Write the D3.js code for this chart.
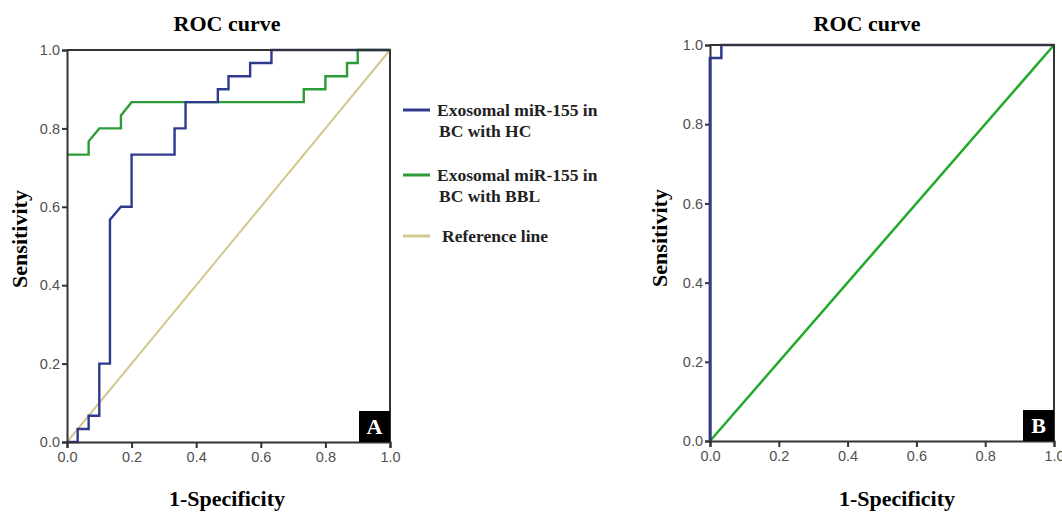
<!DOCTYPE html>
<html>
<head>
<meta charset="utf-8">
<script src="https://cdn.jsdelivr.net/npm/d3@7"></script>
<style>
  body { margin: 0; background: #fff; }
  svg { display: block; }
</style>
</head>
<body>
<div id="chart"></div>
<script>
// tick values shared by both panels
var ticks = [0.0, 0.2, 0.4, 0.6, 0.8, 1.0];

// panel A - exosomal miR-155, BC vs HC
var hcFpr = [0, 0.033, 0.033, 0.067, 0.067, 0.1, 0.1, 0.133, 0.133, 0.167, 0.2, 0.2, 0.333, 0.333, 0.367, 0.367, 0.467, 0.467, 0.5, 0.5, 0.567, 0.567, 0.633, 0.633, 1];
var hcTpr = [0, 0, 0.033, 0.033, 0.067, 0.067, 0.2, 0.2, 0.567, 0.6, 0.6, 0.733, 0.733, 0.8, 0.8, 0.867, 0.867, 0.9, 0.9, 0.933, 0.933, 0.967, 0.967, 1, 1];

// panel A - exosomal miR-155, BC vs BBL
var bblFpr = [0, 0.067, 0.067, 0.1, 0.167, 0.167, 0.2, 0.733, 0.733, 0.8, 0.8, 0.867, 0.867, 0.9, 0.9, 1];
var bblTpr = [0.733, 0.733, 0.767, 0.8, 0.8, 0.833, 0.867, 0.867, 0.9, 0.9, 0.933, 0.933, 0.967, 0.967, 1, 1];

// reference diagonal
var refFpr = [0, 1];
var refTpr = [0, 1];

// panel B
var bFpr = [0, 0, 0.033, 0.033, 1];
var bTpr = [0, 0.967, 0.967, 1, 1];
var bRefFpr = [0, 1];
var bRefTpr = [0, 1];

var legendLabels = [["Exosomal miR-155 in", "BC with HC"], ["Exosomal miR-155 in", "BC with BBL"], ["Reference line"]];

var W = 1062, H = 512;
var serif = "'Liberation Serif', 'Times New Roman', serif";
var sans = "'Liberation Sans', Arial, sans-serif";
var blue = "#2f3a8f", green = "#2e9b3a", tan = "#d3c98e";

var svg = d3.select("#chart").append("svg")
    .attr("width", W)
    .attr("height", H);

function zip(xs, ys) {
  return xs.map(function(x, i) { return [x, ys[i]]; });
}

function panel(p) {
  var x = d3.scaleLinear().domain([0, 1]).range([p.left, p.right]);
  var y = d3.scaleLinear().domain([0, 1]).range([p.bottom, p.top]);
  var g = svg.append("g");

  // title
  g.append("text")
    .attr("x", p.titleX).attr("y", 31)
    .attr("text-anchor", "middle")
    .attr("font-family", serif).attr("font-weight", "bold")
    .attr("font-size", "22px")
    .text("ROC curve");

  var line = d3.line()
    .x(function(d) { return x(d[0]); })
    .y(function(d) { return y(d[1]); });

  p.series.forEach(function(s) {
    g.append("path")
      .datum(zip(s.xs, s.ys))
      .attr("d", line)
      .attr("fill", "none")
      .attr("stroke", s.color)
      .attr("stroke-width", s.width || 2.4);
  });

  // frame: top and right
  g.append("path")
    .attr("d", "M" + x(0) + "," + y(1) + "H" + x(1) + "V" + y(0))
    .attr("fill", "none").attr("stroke", "#333").attr("stroke-width", 2);

  // axes
  var xa = g.append("g")
    .attr("transform", "translate(0," + y(0) + ")")
    .call(d3.axisBottom(x).tickValues(ticks).tickFormat(d3.format(".1f")).tickSize(6).tickPadding(4));
  var ya = g.append("g")
    .attr("transform", "translate(" + x(0) + ",0)")
    .call(d3.axisLeft(y).tickValues(ticks).tickFormat(d3.format(".1f")).tickSize(5).tickPadding(2));
  [xa, ya].forEach(function(a) {
    a.select(".domain").attr("stroke", "#333").attr("stroke-width", 2);
    a.selectAll(".tick line").attr("stroke", "#333").attr("stroke-width", 2);
    a.selectAll(".tick text")
      .attr("font-family", sans).attr("font-size", "14.5px").attr("fill", "#505050");
  });
  if (p.blueLeft) {
    g.append("line")
      .attr("x1", x(0)).attr("x2", x(0))
      .attr("y1", y(0)).attr("y2", y(0.967))
      .attr("stroke", blue).attr("stroke-width", 2.4);
  }

  // axis titles
  g.append("text")
    .attr("x", p.xLabelX).attr("y", 506)
    .attr("text-anchor", "middle")
    .attr("font-family", serif).attr("font-weight", "bold").attr("font-size", "22px")
    .text("1-Specificity");
  g.append("text")
    .attr("transform", "translate(" + (p.yLabelX + 7) + "," + p.yLabelY + ") rotate(-90)")
    .attr("text-anchor", "middle")
    .attr("font-family", serif).attr("font-weight", "bold").attr("font-size", "22px")
    .text("Sensitivity");

  // corner letter
  g.append("rect")
    .attr("x", x(1) - 31).attr("y", y(0) - 31)
    .attr("width", 31).attr("height", 31)
    .attr("fill", "#000");
  g.append("text")
    .attr("x", x(1) - 15.5).attr("y", y(0) - 8)
    .attr("text-anchor", "middle")
    .attr("font-family", serif).attr("font-weight", "bold").attr("font-size", "22px")
    .attr("fill", "#fff")
    .text(p.letter);
}

panel({
  left: 67, right: 390, top: 50, bottom: 442,
  titleX: 227, xLabelX: 227, yLabelX: 20, yLabelY: 239, letter: "A",
  series: [
    { xs: refFpr, ys: refTpr, color: tan, width: 2 },
    { xs: bblFpr, ys: bblTpr, color: green },
    { xs: hcFpr, ys: hcTpr, color: blue }
  ]
});

panel({
  left: 710, right: 1054, top: 45, bottom: 441,
  titleX: 867, xLabelX: 897, yLabelX: 660, yLabelY: 238, letter: "B",
  blueLeft: true,
  series: [
    { xs: bRefFpr, ys: bRefTpr, color: "#1faa2a", width: 2.5 },
    { xs: bFpr, ys: bTpr, color: blue, width: 2.5 }
  ]
});

// legend for panel A
var legColors = [blue, green, tan];
var legY = [110, 175, 236];
var leg = svg.append("g");
legendLabels.forEach(function(lines, i) {
  leg.append("line")
    .attr("x1", 403).attr("x2", 430)
    .attr("y1", legY[i]).attr("y2", legY[i])
    .attr("stroke", legColors[i]).attr("stroke-width", 3);
  lines.forEach(function(t, j) {
    leg.append("text")
      .attr("x", i === 2 ? 442 : (j === 0 ? 437 : 439))
      .attr("y", legY[i] + 6 + j * 21)
      .attr("font-family", serif).attr("font-weight", "bold").attr("font-size", "17.5px")
      .attr("fill", "#222")
      .text(t);
  });
});
</script>
</body>
</html>
